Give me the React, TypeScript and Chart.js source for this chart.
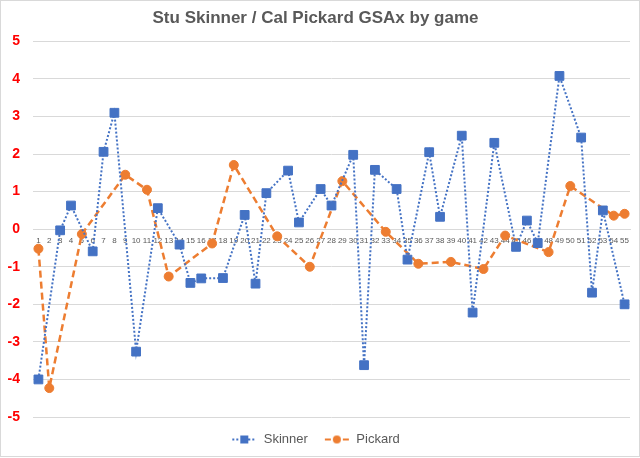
import React, { useEffect, useRef } from "react";
import { Chart, registerables } from "chart.js";
Chart.register(...registerables);

const games = [
  "1","2","3","4","5","6","7","8","9","10","11","12","13","14","15","16","17","18","19","20",
  "21","22","23","24","25","26","27","28","29","30","31","32","33","34","35","36","37","38","39","40",
  "41","42","43","44","45","46","47","48","49","50","51","52","53","54","55",
];

const skinner = [
  -4.0, null, -0.03, 0.63, null, -0.59, 2.06, 3.10, null, -3.26,
  null, 0.56, null, -0.41, -1.43, -1.31, null, -1.30, null, 0.38,
  -1.45, 0.96, null, 1.56, 0.18, null, 1.07, 0.63, null, 1.98,
  -3.62, 1.58, null, 1.07, -0.81, null, 2.05, 0.33, null, 2.49,
  -2.22, null, 2.30, null, -0.47, 0.23, -0.37, null, 4.08, null,
  2.44, -1.69, 0.50, null, -2.0,
];

const pickard = [
  -0.52, -4.23, null, null, -0.13, null, null, null, 1.45, null,
  1.05, null, -1.26, null, null, null, -0.38, null, 1.71, null,
  null, null, -0.19, null, null, -1.0, null, null, 1.28, null,
  null, null, -0.07, null, null, -0.92, null, null, -0.87, null,
  null, -1.06, null, -0.17, null, null, null, -0.61, null, 1.15,
  null, null, null, 0.36, 0.41,
];

const yMin = -5;
const yMax = 5;

const BLUE = "#4472C4";
const ORANGE = "#ED7D31";
const GRAY = "#595959";
const GRID = "#d9d9d9";

function makeSymbol(color: string, dash: number[], kind: "rect" | "circle") {
  const c = document.createElement("canvas");
  c.width = 26;
  c.height = 12;
  const ctx = c.getContext("2d")!;
  ctx.strokeStyle = color;
  ctx.lineWidth = 2;
  ctx.setLineDash(dash);
  ctx.beginPath();
  ctx.moveTo(1, 6);
  ctx.lineTo(25, 6);
  ctx.stroke();
  ctx.setLineDash([]);
  ctx.fillStyle = color;
  if (kind === "rect") {
    ctx.fillRect(9, 2, 8, 8);
  } else {
    ctx.beginPath();
    ctx.arc(13, 6, 4, 0, Math.PI * 2);
    ctx.fill();
  }
  return c;
}

export default function App() {
  const ref = useRef<HTMLCanvasElement>(null);
  useEffect(() => {
    if (!ref.current) return;
    Chart.defaults.font.family = "'Liberation Sans', Arial, sans-serif";
    const symS = makeSymbol(BLUE, [2, 2], "rect");
    const symP = makeSymbol(ORANGE, [6, 3], "circle");
    const chart = new Chart(ref.current, {
      type: "line",
      data: {
        labels: games,
        datasets: [
          {
            label: "Skinner",
            data: skinner,
            borderColor: BLUE,
            backgroundColor: BLUE,
            borderWidth: 2,
            borderDash: [2, 2],
            pointStyle: "rect",
            pointRadius: 6.2,
            pointBorderWidth: 1,
            pointBorderColor: BLUE,
            pointBackgroundColor: BLUE,
            spanGaps: true,
            tension: 0,
          },
          {
            label: "Pickard",
            data: pickard,
            borderColor: ORANGE,
            backgroundColor: ORANGE,
            borderWidth: 2.5,
            borderDash: [7, 4],
            pointStyle: "circle",
            pointRadius: 4.5,
            pointBorderWidth: 1,
            pointBorderColor: ORANGE,
            pointBackgroundColor: ORANGE,
            spanGaps: true,
            tension: 0,
          },
        ],
      },
      options: {
        responsive: false,
        animation: false,
        layout: { padding: { right: 9, left: 0, top: 0, bottom: 0 } },
        plugins: {
          title: {
            display: true,
            text: "Stu Skinner / Cal Pickard GSAx by game",
            color: GRAY,
            font: { size: 17, weight: "bold" },
            padding: { top: 7, bottom: 13 },
          },
          legend: {
            position: "bottom",
            labels: {
              color: GRAY,
              font: { size: 13 },
              usePointStyle: true,
              pointStyleWidth: 26,
              boxHeight: 13,
              padding: 16,
              generateLabels: () => [
                { text: "Skinner", pointStyle: symS as any, fillStyle: BLUE, strokeStyle: BLUE, lineWidth: 0, hidden: false, datasetIndex: 0, fontColor: GRAY },
                { text: "Pickard", pointStyle: symP as any, fillStyle: ORANGE, strokeStyle: ORANGE, lineWidth: 0, hidden: false, datasetIndex: 1, fontColor: GRAY },
              ],
            },
          },
          tooltip: { enabled: false },
        },
        scales: {
          x: {
            type: "category",
            position: { y: 0 } as any,
            offset: true,
            grid: { display: false, drawTicks: false },
            border: { display: true, color: GRID, width: 1 },
            ticks: {
              autoSkip: false,
              maxRotation: 0,
              minRotation: 0,
              color: GRAY,
              font: { size: 8 },
              padding: 7,
            },
          },
          y: {
            min: yMin,
            max: yMax,
            grid: { color: GRID, drawTicks: false },
            border: { display: false },
            ticks: {
              stepSize: 1,
              color: "#ff0000",
              font: { size: 14, weight: "bold" },
              padding: 13,
            },
            afterFit: (scale: any) => {
              scale.width = 32;
            },
          },
        },
      },
    });
    return () => chart.destroy();
  }, []);
  return (
    <div
      style={{
        position: "absolute",
        left: 0,
        top: 0,
        width: 640,
        height: 457,
        boxSizing: "border-box",
        border: "1px solid #d9d9d9",
        background: "#fff",
      }}
    >
      <canvas ref={ref} width={638} height={455} style={{ display: "block" }} />
    </div>
  );
}
